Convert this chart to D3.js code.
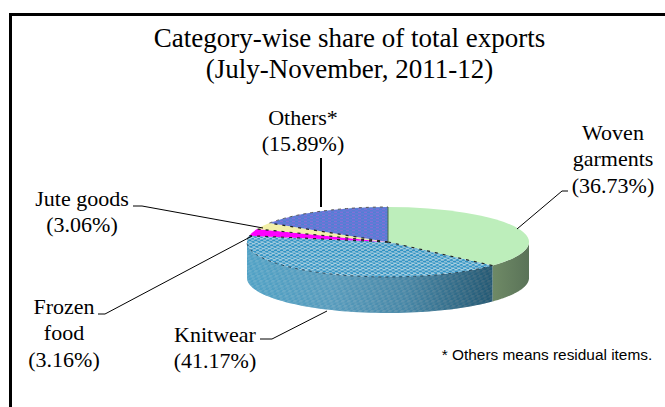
<!DOCTYPE html>
<html><head><meta charset="utf-8">
<script src="https://cdnjs.cloudflare.com/ajax/libs/d3/7.8.5/d3.min.js"></script>
<style>html,body{margin:0;padding:0;background:#fff}svg{display:block}</style></head>
<body><script>
const categories = ["Woven garments","Knitwear","Frozen food","Jute goods","Others*"];
const shares = [36.73,41.17,3.16,3.06,15.89];
const titleLines = ["Category-wise share of total exports","(July-November, 2011-12)"];
const labelLines = [["Woven","garments","(36.73%)"],["Knitwear","(41.17%)"],["Frozen","food","(3.16%)"],["Jute goods","(3.06%)"],["Others*","(15.89%)"]];
const footnote = "* Others means residual items.";

const W=665,H=407,cx=388,cy=242,rx=141,ry=35,depth=36;
const svg=d3.select("body").append("svg").attr("width",W).attr("height",H);
const defs=svg.append("defs");

const po=defs.append("pattern").attr("id","pOthers").attr("width",6).attr("height",6).attr("patternUnits","userSpaceOnUse");
po.append("rect").attr("width",6).attr("height",6).attr("fill","#4d7fd4");
po.append("rect").attr("width",3).attr("height",3).attr("fill","#8570d8");
po.append("rect").attr("x",3).attr("y",3).attr("width",3).attr("height",3).attr("fill","#6f78d6");

const pk=defs.append("pattern").attr("id","pKnit").attr("width",6).attr("height",5).attr("patternUnits","userSpaceOnUse").attr("patternTransform","skewX(-35)");
pk.append("rect").attr("width",6).attr("height",5).attr("fill","#2f93c4");
pk.append("rect").attr("width",3.5).attr("height",2.5).attr("fill","#a9cfe0");
pk.append("rect").attr("x",3).attr("y",2.5).attr("width",3).attr("height",2.5).attr("fill","#8fc0d8");

const g1=defs.append("linearGradient").attr("id","sideKnit").attr("gradientUnits","userSpaceOnUse")
  .attr("x1",cx-rx).attr("x2",cx+rx*0.74).attr("y1",0).attr("y2",0);
[[0,"#58a5c6"],[0.35,"#5f9dbb"],[0.65,"#4b839f"],[1,"#1f4a60"]].forEach(d=>g1.append("stop").attr("offset",d[0]).attr("stop-color",d[1]));
const g2=defs.append("linearGradient").attr("id","sideWoven").attr("gradientUnits","userSpaceOnUse")
  .attr("x1",cx+rx*0.74).attr("x2",cx+rx).attr("y1",0).attr("y2",0);
[[0,"#6f8a66"],[1,"#5a7358"]].forEach(d=>g2.append("stop").attr("offset",d[0]).attr("stop-color",d[1]));

svg.append("rect").attr("x",10.5).attr("y",14.5).attr("width",670).attr("height",410).attr("fill","#fff").attr("stroke","#000").attr("stroke-width",3);

const arcs=d3.pie().sort(null).value(d=>d)(shares);
const fills=["#bdeebb","url(#pKnit)","#ff00ff","#f2f0a8","url(#pOthers)"];
const sideFills=["url(#sideWoven)","url(#sideKnit)"];
const px=a=>cx+rx*Math.sin(a), py=a=>cy-ry*Math.cos(a);

arcs.forEach((a,i)=>{
  const s=Math.max(a.startAngle,Math.PI/2), e=Math.min(a.endAngle,Math.PI*1.5);
  if(e<=s||!sideFills[i])return;
  const p=d3.path();
  const pts=d3.range(61).map(k=>s+(e-s)*k/60);
  pts.forEach((t,k)=>k?p.lineTo(px(t),py(t)):p.moveTo(px(t),py(t)));
  pts.slice().reverse().forEach(t=>p.lineTo(px(t),py(t)+depth));
  p.closePath();
  svg.append("path").attr("d",p.toString()).attr("fill",sideFills[i]);
  if(i===1) svg.append("path").attr("d",p.toString()).attr("fill","url(#pKnit)").attr("opacity",0.2);
});

const arcGen=d3.arc().innerRadius(0).outerRadius(rx);
const face=svg.append("g").attr("transform",`translate(${cx},${cy}) scale(1,${ry/rx})`);
face.selectAll("path").data(arcs).join("path").attr("d",arcGen).attr("fill",(d,i)=>fills[i]);

// dashed rim along the knitwear slice and along the back of the pie
[arcs[1],arcs[4]].forEach((a,i)=>{
  const pts=d3.range(81).map(k=>a.startAngle+(a.endAngle-a.startAngle)*k/80).map(t=>[px(t),py(t)]);
  svg.append("path").attr("d",d3.line()(pts)).attr("fill","none").attr("stroke",i?"#555":"#26485c")
    .attr("stroke-width",1).attr("stroke-dasharray","3 4");
});

arcs.forEach((a,i)=>{
  if(i===0) return;
  svg.append("line").attr("x1",cx).attr("y1",cy).attr("x2",px(a.startAngle)).attr("y2",py(a.startAngle))
   .attr("stroke","#222").attr("stroke-width",1.2).attr("stroke-dasharray","3 5");
});
svg.append("line").attr("x1",cx).attr("y1",cy).attr("x2",px(0)).attr("y2",py(0)).attr("stroke","#4a6a4a").attr("stroke-width",1);

const line=(pts,w)=>svg.append("path").attr("d",d3.line()(pts)).attr("fill","none").attr("stroke","#000").attr("stroke-width",w||1);
line([[517,229],[562,191],[568,191]]);
line([[327,311],[272,339],[260,339]]);
line([[252,236],[105,314],[98,314]]);
line([[263,228],[142,206],[133,206]]);
line([[321,207],[321,158]],2);

const txt=(x,y,s,size,fam)=>svg.append("text").attr("x",x).attr("y",y).attr("text-anchor","middle").attr("font-family",fam||"'Liberation Serif'").attr("font-size",size).attr("fill","#000").text(s);
titleLines.forEach((s,i)=>txt(349.5,47+i*31,s,27));
const pos=[[613,140],[215,342],[64,314],[82,206],[303,125]];
labelLines.forEach((ls,i)=>ls.forEach((s,k)=>txt(pos[i][0],pos[i][1]+k*26.3,s,22)));
txt(547,360,footnote,15.4,"'Liberation Sans'");
</script></body></html>
